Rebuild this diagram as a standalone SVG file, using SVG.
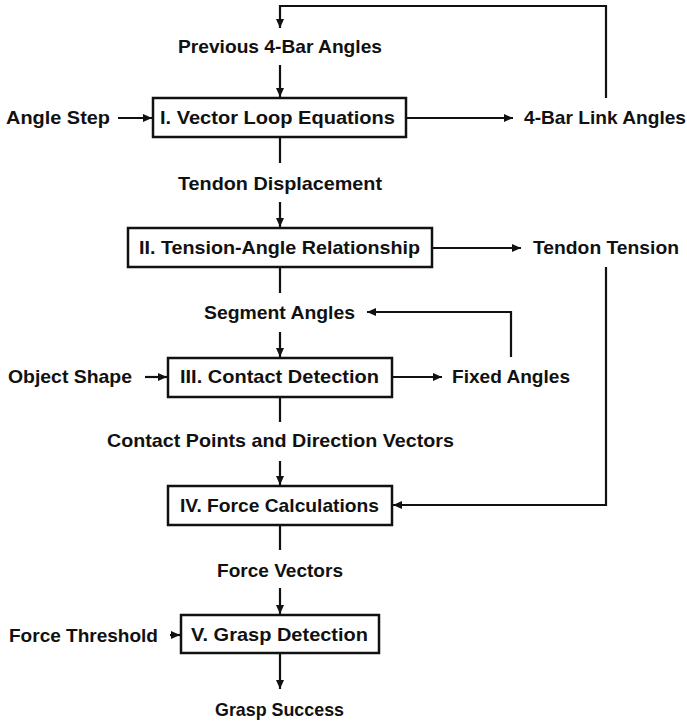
<svg xmlns="http://www.w3.org/2000/svg" width="687" height="721" viewBox="0 0 687 721">
<style>
text{font-family:"Liberation Sans",Arial,sans-serif;font-weight:bold;font-size:18.5px;fill:#111;}
.box{fill:#fff;stroke:#111;stroke-width:2.5;}
.c{fill:none;stroke:#111;stroke-width:2.2;}
</style>
<defs>
<marker id="ah" markerUnits="userSpaceOnUse" markerWidth="10" markerHeight="10" refX="9" refY="4" orient="auto">
<path d="M0,0 L9,4 L0,8 z" fill="#111"/>
</marker>
</defs>
<rect width="687" height="721" fill="#fff"/>
<g id="connectors">
<path class="c" d="M606,98 V6 H280 V28" marker-end="url(#ah)"/>
<path class="c" d="M280,65 V97" marker-end="url(#ah)"/>
<path class="c" d="M118,118 H152" marker-end="url(#ah)"/>
<path class="c" d="M406,118 H513" marker-end="url(#ah)"/>
<path class="c" d="M280,137 V163"/>
<path class="c" d="M280,202 V227" marker-end="url(#ah)"/>
<path class="c" d="M432,248 H521" marker-end="url(#ah)"/>
<path class="c" d="M280,267 V293"/>
<path class="c" d="M511,357 V312 H367" marker-end="url(#ah)"/>
<path class="c" d="M280,332 V357" marker-end="url(#ah)"/>
<path class="c" d="M145,377 H167" marker-end="url(#ah)"/>
<path class="c" d="M392,377 H442" marker-end="url(#ah)"/>
<path class="c" d="M280,397 V422"/>
<path class="c" d="M280,461 V485" marker-end="url(#ah)"/>
<path class="c" d="M606,267 V505 H393" marker-end="url(#ah)"/>
<path class="c" d="M280,525 V550"/>
<path class="c" d="M280,588 V614" marker-end="url(#ah)"/>
<path class="c" d="M170,635 H180" marker-end="url(#ah)"/>
<path class="c" d="M280,653 V689" marker-end="url(#ah)"/>
</g>
<g id="n-prev"><text x="178" y="53" textLength="204" lengthAdjust="spacingAndGlyphs">Previous 4-Bar Angles</text></g>
<g id="n-anglestep"><text x="6" y="124" textLength="104" lengthAdjust="spacingAndGlyphs">Angle Step</text></g>
<g id="n-box1"><rect class="box" x="153" y="98" width="253" height="39"/><text x="160" y="124" textLength="235" lengthAdjust="spacingAndGlyphs">I. Vector Loop Equations</text></g>
<g id="n-4bar"><text x="524" y="124" textLength="162" lengthAdjust="spacingAndGlyphs">4-Bar Link Angles</text></g>
<g id="n-tdisp"><text x="178" y="190" textLength="204" lengthAdjust="spacingAndGlyphs">Tendon Displacement</text></g>
<g id="n-box2"><rect class="box" x="128" y="228" width="304" height="39"/><text x="139" y="254" textLength="281" lengthAdjust="spacingAndGlyphs">II. Tension-Angle Relationship</text></g>
<g id="n-ttension"><text x="533" y="254" textLength="146" lengthAdjust="spacingAndGlyphs">Tendon Tension</text></g>
<g id="n-segment"><text x="204" y="319" textLength="151" lengthAdjust="spacingAndGlyphs">Segment Angles</text></g>
<g id="n-object"><text x="8" y="383" textLength="124" lengthAdjust="spacingAndGlyphs">Object Shape</text></g>
<g id="n-box3"><rect class="box" x="168" y="358" width="224" height="39"/><text x="180" y="383" textLength="199" lengthAdjust="spacingAndGlyphs">III. Contact Detection</text></g>
<g id="n-fixed"><text x="452" y="383" textLength="118" lengthAdjust="spacingAndGlyphs">Fixed Angles</text></g>
<g id="n-contact"><text x="107" y="447" textLength="347" lengthAdjust="spacingAndGlyphs">Contact Points and Direction Vectors</text></g>
<g id="n-box4"><rect class="box" x="168" y="486" width="224" height="39"/><text x="180" y="512" textLength="199" lengthAdjust="spacingAndGlyphs">IV. Force Calculations</text></g>
<g id="n-fvec"><text x="217" y="577" textLength="126" lengthAdjust="spacingAndGlyphs">Force Vectors</text></g>
<g id="n-fthresh"><text x="9" y="642" textLength="149" lengthAdjust="spacingAndGlyphs">Force Threshold</text></g>
<g id="n-box5"><rect class="box" x="181" y="615" width="198" height="38"/><text x="191" y="641" textLength="177" lengthAdjust="spacingAndGlyphs">V. Grasp Detection</text></g>
<g id="n-grasp"><text x="215" y="716" textLength="129" lengthAdjust="spacingAndGlyphs">Grasp Success</text></g>
</svg>
